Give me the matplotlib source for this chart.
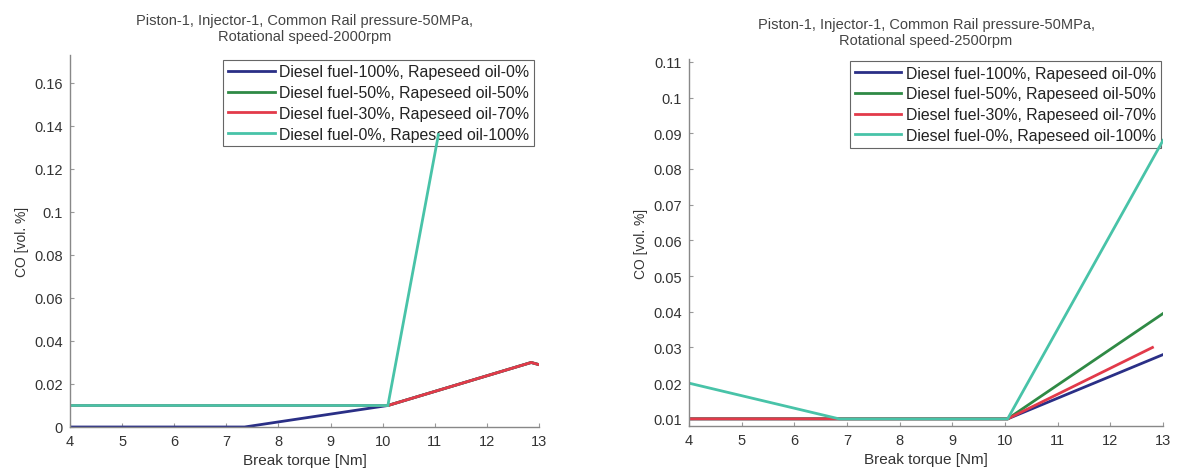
import matplotlib
matplotlib.use("Agg")
import matplotlib.pyplot as plt

plt.rcParams['font.family'] = ['Liberation Sans', 'DejaVu Sans']

labels = ["Diesel fuel-100%, Rapeseed oil-0%",
          "Diesel fuel-50%, Rapeseed oil-50%",
          "Diesel fuel-30%, Rapeseed oil-70%",
          "Diesel fuel-0%, Rapeseed oil-100%"]
colors = ["#2a2f86", "#2f8a45", "#e23a4a", "#48c3a8"]

# 2000 rpm
x2000_d100 = [4, 7.35, 10.1, 12.85, 13]
y2000_d100 = [0.0, 0.0, 0.01, 0.03, 0.029]
x2000_d50 = [4, 10.1, 12.85, 13]
y2000_d50 = [0.01, 0.01, 0.03, 0.029]
x2000_d30 = [4, 10.1, 12.85, 13]
y2000_d30 = [0.01, 0.01, 0.03, 0.029]
x2000_d0 = [4, 10.1, 11.07]
y2000_d0 = [0.01, 0.01, 0.136]

# 2500 rpm
x2500_d100 = [4, 6.85, 10.05, 13]
y2500_d100 = [0.01, 0.01, 0.01, 0.028]
x2500_d50 = [4, 6.85, 10.05, 13]
y2500_d50 = [0.01, 0.01, 0.01, 0.0395]
x2500_d30 = [4, 6.85, 10.05, 12.8]
y2500_d30 = [0.01, 0.01, 0.01, 0.030]
x2500_d0 = [4, 6.85, 10.05, 13]
y2500_d0 = [0.02, 0.01, 0.01, 0.088]

xticks = [4, 5, 6, 7, 8, 9, 10, 11, 12, 13]
yticks_2000 = [0, 0.02, 0.04, 0.06, 0.08, 0.1, 0.12, 0.14, 0.16]
yticklabels_2000 = ["0", "0.02", "0.04", "0.06", "0.08", "0.1", "0.12", "0.14", "0.16"]
yticks_2500 = [0.01, 0.02, 0.03, 0.04, 0.05, 0.06, 0.07, 0.08, 0.09, 0.1, 0.11]
yticklabels_2500 = ["0.01", "0.02", "0.03", "0.04", "0.05", "0.06", "0.07", "0.08", "0.09", "0.1", "0.11"]

titles = ["Piston-1, Injector-1, Common Rail pressure-50MPa,\nRotational speed-2000rpm",
          "Piston-1, Injector-1, Common Rail pressure-50MPa,\nRotational speed-2500rpm"]

fig = plt.figure(figsize=(11.82, 4.77), dpi=100)
ax1 = fig.add_axes([70/1182, 1-428/477, 469/1182, (428-56)/477])
ax2 = fig.add_axes([689/1182, 1-427/477, 474/1182, (427-60)/477])

txtc = "#333333"
for ax, data, ylim, yt, ytl, title, bpad in [
    (ax1, [(x2000_d100, y2000_d100), (x2000_d50, y2000_d50), (x2000_d30, y2000_d30), (x2000_d0, y2000_d0)],
     (0, 0.173), yticks_2000, yticklabels_2000, titles[0], 0.3),
    (ax2, [(x2500_d100, y2500_d100), (x2500_d50, y2500_d50), (x2500_d30, y2500_d30), (x2500_d0, y2500_d0)],
     (0.008, 0.1108), yticks_2500, yticklabels_2500, titles[1], 0.12),
]:
    for (xs, ys), c, lab in zip(data, colors, labels):
        ax.plot(xs, ys, color=c, lw=2.0, label=lab, solid_joinstyle='miter')
    ax.set_xlim(4, 13)
    ax.set_ylim(*ylim)
    ax.set_xticks(xticks)
    ax.set_xticklabels([str(v) for v in xticks])
    ax.set_yticks(yt)
    ax.set_yticklabels(ytl)
    for s in ["top", "right"]:
        ax.spines[s].set_visible(False)
    for s in ["left", "bottom"]:
        ax.spines[s].set_color("#888888")
        ax.spines[s].set_linewidth(1.0)
    ax.tick_params(direction='in', length=3, colors="#999999", labelcolor=txtc, labelsize=10.5, pad=5)
    ax.set_xlabel("Break torque [Nm]", fontsize=11, color=txtc, labelpad=4)
    ax.set_ylabel("CO [vol. %]", fontsize=10, color=txtc, labelpad=4)
    ax.set_title(title, fontsize=10.5, color="#444444", pad=11, linespacing=1.15)
    leg = ax.legend(loc="upper right", fontsize=11.4, frameon=True, fancybox=False,
                    edgecolor="#666666", framealpha=1.0, handlelength=2.95, handletextpad=0.3,
                    labelspacing=0.36, borderpad=0.3, borderaxespad=bpad)
    leg.get_frame().set_linewidth(0.8)
    for t in leg.get_texts():
        t.set_color("#222222")
    leg.set_zorder(1)

fig.savefig("out.png", dpi=100, facecolor="white")
